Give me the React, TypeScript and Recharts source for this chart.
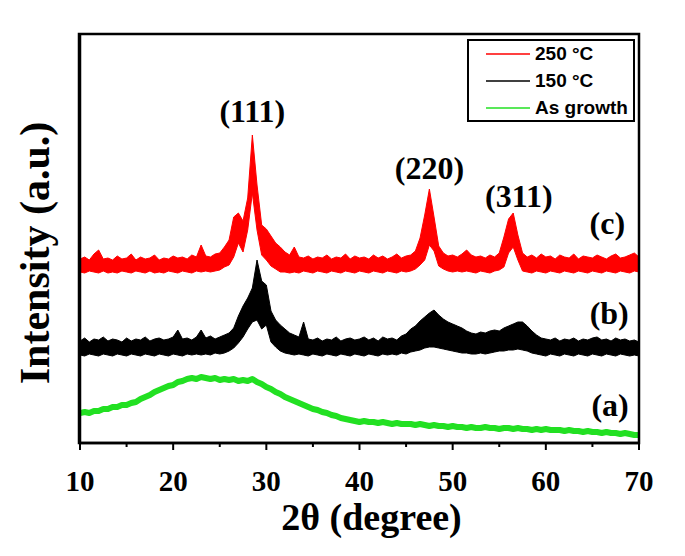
import React from 'react';
import { ComposedChart, Area, Line, XAxis, YAxis, ReferenceDot } from 'recharts';

// 2θ grid (degree)
const twoTheta: number[] = Array.from({ length: 121 }, (_, i) => 10 + i * 0.5);

// 250 °C : lower / upper edge of the noisy trace (a.u.)
const red250Lo = [
  171, 170, 172, 171, 170, 172, 170, 171, 170, 172,
  171, 170, 172, 171, 170, 172, 170, 171, 170, 172,
  171, 170, 172, 171, 170, 172, 171, 172, 171, 172,
  173, 176, 178, 186, 200, 191, 213, 250, 213, 188,
  183, 177, 174, 171, 171, 170, 171, 170, 172, 171,
  170, 172, 171, 170, 172, 171, 170, 172, 171, 170,
  172, 171, 170, 172, 171, 170, 172, 171, 170, 172,
  171, 172, 174, 178, 183, 198, 192, 177, 174, 172,
  171, 172, 171, 172, 171, 170, 172, 171, 170, 172,
  173, 176, 190, 196, 183, 172, 171, 170, 172, 171,
  170, 172, 171, 170, 172, 171, 170, 172, 171, 170,
  172, 171, 170, 172, 171, 170, 172, 171, 170, 172,
  171,
];
const red250Hi = [
  184, 186, 183, 189, 193, 184, 185, 183, 187, 184,
  185, 189, 183, 186, 184, 185, 188, 183, 185, 184,
  187, 185, 186, 184, 188, 186, 198, 187, 186, 189,
  190, 196, 203, 226, 230, 222, 245, 308, 258, 218,
  214, 207, 200, 196, 191, 188, 196, 186, 185, 187,
  184, 186, 185, 188, 184, 186, 185, 189, 184, 187,
  185, 186, 184, 188, 185, 187, 184, 186, 189, 185,
  187, 188, 192, 205, 228, 254, 226, 197, 190, 187,
  188, 186, 189, 193, 188, 186, 187, 185, 188, 186,
  190, 206, 224, 230, 208, 190, 186, 188, 185, 189,
  186, 187, 184, 188, 186, 185, 189, 184, 187, 186,
  185, 188, 186, 184, 187, 189, 185, 186, 188, 190,
  186,
];

// 150 °C : lower / upper edge
const black150Lo = [
  88, 87, 89, 88, 87, 89, 88, 87, 89, 88,
  87, 89, 88, 87, 89, 88, 87, 89, 88, 87,
  89, 88, 87, 89, 88, 89, 88, 89, 88, 90,
  89, 90, 92, 95, 100, 106, 114, 121, 123, 114,
  118, 101, 96, 92, 90, 89, 88, 89, 88, 87,
  89, 88, 87, 89, 88, 87, 89, 88, 87, 89,
  88, 87, 89, 88, 87, 89, 88, 89, 88, 90,
  89, 91, 92, 93, 95, 96, 96, 95, 94, 93,
  92, 91, 90, 90, 89, 89, 90, 89, 90, 91,
  92, 92, 93, 93, 94, 93, 92, 90, 89, 88,
  87, 89, 88, 87, 89, 88, 87, 89, 88, 87,
  89, 88, 87, 89, 88, 87, 89, 88, 87, 88,
  87,
];
const black150Hi = [
  102, 105, 101, 104, 103, 106, 102, 104, 103, 101,
  105, 102, 104, 103, 106, 102, 104, 105, 103, 104,
  106, 113, 104, 105, 103, 106, 113, 105, 107, 104,
  106, 108, 110, 115, 127, 137, 145, 155, 183, 162,
  158, 132, 123, 118, 114, 110, 108, 106, 121, 104,
  103, 105, 102, 104, 103, 106, 102, 104, 105, 103,
  104, 106, 103, 105, 102, 106, 104, 105, 103, 107,
  109, 114, 117, 122, 126, 130, 133, 128, 124, 121,
  119, 117, 115, 112, 110, 109, 111, 110, 112, 113,
  112, 115, 117, 119, 121, 121, 117, 112, 108, 105,
  104, 103, 105, 102, 104, 103, 105, 102, 104, 103,
  105, 106, 103, 104, 102, 105, 103, 104, 102, 103,
  101,
];

// As growth
const asGrowth = [
  30, 31, 30, 32, 32, 34, 34, 36, 36, 38,
  38, 40, 41, 44, 46, 48, 51, 53, 55, 57,
  58, 61, 62, 64, 65, 64, 66, 65, 64, 65,
  63, 64, 63, 64, 62, 63, 62, 64, 61, 59,
  56, 54, 51, 49, 46, 44, 42, 40, 38, 36,
  34, 33, 31, 30, 28, 27, 25, 24, 23, 22,
  21, 22, 21, 21, 20, 21, 20, 19, 20, 19,
  19, 19, 18, 19, 18, 17, 18, 17, 17, 16,
  17, 16, 16, 15, 16, 15, 15, 16, 15, 15,
  14, 15, 15, 14, 15, 14, 14, 13, 14, 13,
  14, 13, 13, 13, 12, 13, 12, 12, 11, 12,
  11, 11, 10, 11, 10, 10, 9, 10, 9, 8,
  8,
];

const xTicks = [10, 15, 20, 25, 30, 35, 40, 45, 50, 55, 60, 65, 70];

const peakLabels = [
  { label: '(111)', x: 28.5, y: 332 },
  { label: '(220)', x: 47.5, y: 275 },
  { label: '(311)', x: 57.1, y: 247 },
  { label: '(c)', x: 66.6, y: 220 },
  { label: '(b)', x: 66.8, y: 130 },
  { label: '(a)', x: 66.9, y: 38 },
];

const legendItems = [
  { name: '250 °C', color: '#ff0000' },
  { name: '150 °C', color: '#000000' },
  { name: 'As growth', color: '#22e022' },
];

const data = twoTheta.map((t, i) => ({
  t,
  red: [red250Lo[i], red250Hi[i]],
  black: [black150Lo[i], black150Hi[i]],
  green: asGrowth[i],
}));

const SERIF = "'Liberation Serif', 'Times New Roman', serif";
const SANS = "'Liberation Sans', Arial, sans-serif";
const FRAME = { stroke: '#000', strokeWidth: 2.5 };

const XTick = (props: any) => {
  const { x, y, payload } = props;
  const major = payload.value % 10 === 0;
  return (
    <g>
      <line x1={x} x2={x} y1={y} y2={y + (major ? 7 : 4)} stroke="#000" strokeWidth={2} />
      {major && (
        <text x={x} y={y + 48} textAnchor="middle" fontFamily={SERIF} fontWeight="bold" fontSize={29} fill="#000">
          {payload.value}
        </text>
      )}
    </g>
  );
};

const XLabel = (props: any) => {
  const vb = props.viewBox;
  const cx = vb.x + vb.width / 2 + 12;
  return (
    <text x={cx} y={vb.y + 87} textAnchor="middle" fontFamily={SERIF} fontWeight="bold" fontSize={38} fill="#000">
      2θ (degree)
    </text>
  );
};

export default function App() {
  return (
    <div style={{ position: 'absolute', left: 0, top: 0, width: 685, height: 556, background: '#fff' }}>
      <ComposedChart
        width={685}
        height={556}
        data={data}
        margin={{ top: 34, right: 46, bottom: 53, left: 79 }}
      >
        <XAxis
          type="number"
          dataKey="t"
          domain={[10, 70]}
          ticks={xTicks}
          interval={0}
          allowDataOverflow
          tickLine={false}
          tickSize={0}
          tickMargin={0}
          axisLine={FRAME}
          tick={<XTick />}
          height={60}
          label={{ content: <XLabel /> }}
        />
        <YAxis
          type="number"
          domain={[0, 409]}
          allowDataOverflow
          tick={false}
          tickLine={false}
          axisLine={FRAME}
          width={1}
        />
        <Area
          type="linear"
          dataKey="red"
          stroke="#ff0000"
          strokeWidth={1}
          fill="#ff0000"
          fillOpacity={1}
          isAnimationActive={false}
          dot={false}
          activeDot={false}
        />
        <Area
          type="linear"
          dataKey="black"
          stroke="#000000"
          strokeWidth={1}
          fill="#000000"
          fillOpacity={1}
          isAnimationActive={false}
          dot={false}
          activeDot={false}
        />
        <Line
          type="linear"
          dataKey="green"
          stroke="#22e022"
          strokeWidth={6}
          strokeLinejoin="round"
          dot={false}
          activeDot={false}
          isAnimationActive={false}
        />
        {peakLabels.map((p) => (
          <ReferenceDot
            key={p.label}
            x={p.x}
            y={p.y}
            r={0}
            fill="none"
            stroke="none"
            label={{ value: p.label, position: 'center', fontFamily: SERIF, fontWeight: 'bold', fontSize: 32, fill: '#000' }}
          />
        ))}
      </ComposedChart>
      {/* plot frame and y-axis title */}
      <svg style={{ position: 'absolute', left: 0, top: 0, pointerEvents: 'none' }} width={685} height={556}>
        <rect x={79} y={34} width={560} height={409} fill="none" stroke="#000" strokeWidth={2.5} />
        <text
          x={35}
          y={253}
          transform="rotate(-90, 35, 253)"
          textAnchor="middle"
          dominantBaseline="central"
          fontFamily={SERIF}
          fontWeight="bold"
          fontSize={42}
          fill="#000"
        >
          Intensity (a.u.)
        </text>
      </svg>
      {/* legend */}
      <div
        style={{
          position: 'absolute',
          left: 467,
          top: 39,
          width: 168,
          height: 83,
          border: '2px solid #000',
          boxSizing: 'border-box',
          background: '#fff',
        }}
      >
        {legendItems.map((it, i) => (
          <div
            key={it.name}
            style={{ position: 'absolute', left: 17, top: 13 + i * 27 - 12, height: 24, display: 'flex', alignItems: 'center' }}
          >
            <svg width={45} height={24} style={{ display: 'block' }}>
              <line x1={0} x2={44} y1={12} y2={12} stroke={it.color} strokeWidth={1.5} />
            </svg>
            <span style={{ fontFamily: SANS, fontWeight: 'bold', fontSize: 19, marginLeft: 4, color: '#000', whiteSpace: 'nowrap' }}>
              {it.name}
            </span>
          </div>
        ))}
      </div>
    </div>
  );
}
